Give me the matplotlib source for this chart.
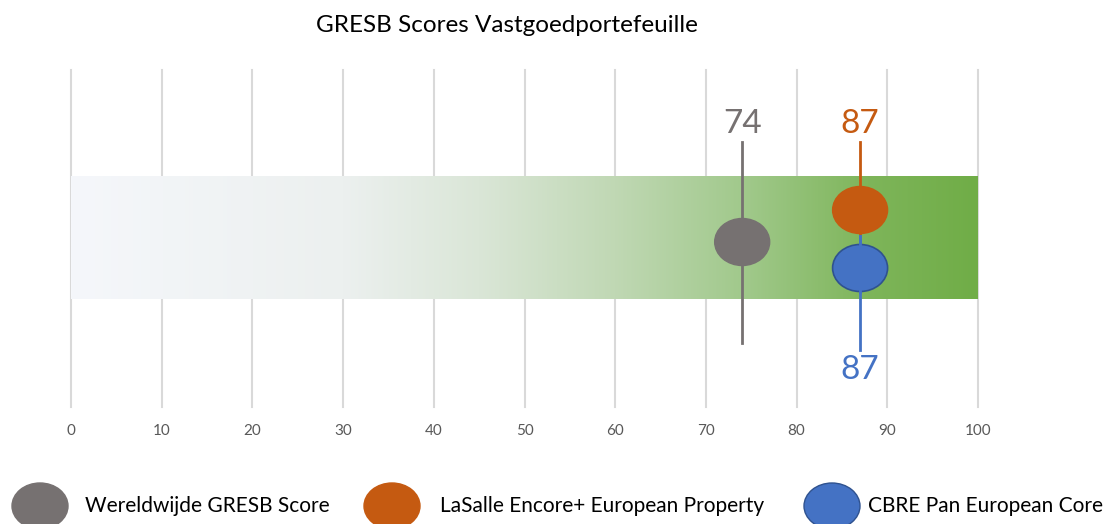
import numpy as np
import matplotlib
matplotlib.use("Agg")
import matplotlib.pyplot as plt
from matplotlib.colors import LinearSegmentedColormap
from matplotlib.patches import Ellipse

plt.rcParams["font.family"] = ["Lato", "DejaVu Sans"]

# data
title = "GRESB Scores Vastgoedportefeuille"
series = ["Wereldwijde GRESB Score", "LaSalle Encore+ European Property", "CBRE Pan European Core"]
scores = [74, 87, 87]
colors = ["#767171", "#C55A11", "#4472C4"]
edges = ["#767171", "#C55A11", "#2F528F"]
ticks = list(range(0, 101, 10))

W, H = 1107, 524
fig = plt.figure(figsize=(W / 100, H / 100), dpi=100)

# main axes: x 0..100 maps px 71..978, y 0..1 maps px 407..70
x0, x1, ytop, ybot = 71, 978, 70, 407
ax = fig.add_axes([x0 / W, 1 - ybot / H, (x1 - x0) / W, (ybot - ytop) / H])
ax.set_xlim(0, 100)
ax.set_ylim(0, 1)
ax.axis("off")


def py(p):
    # pixel row -> axes y
    return 1 - (p - ytop) / (ybot - ytop)


for t in ticks:
    ax.plot([t, t], [0, 1], color="#D9D9D9", lw=1.5, zorder=1, clip_on=False)
    ax.text(t, py(431), str(t), ha="center", va="center", fontsize=11,
            color="#595959")

# gradient band
cmap = LinearSegmentedColormap.from_list("band", [
    (0.0, "#F5F7FB"), (0.3, "#ECF0EF"), (0.45, "#DAE6D7"),
    (0.6, "#C0D8B4"), (0.75, "#9FC889"), (0.88, "#7EB55A"), (1.0, "#70AD47")])
grad = np.linspace(0, 1, 512).reshape(1, -1)
ax.imshow(grad, cmap=cmap, aspect="auto", extent=[0, 100, py(299), py(177)],
          zorder=2, interpolation="bicubic")

ex = 55 / ((x1 - x0) / 100)
ey = 47 / (ybot - ytop)

# grey: world score
ax.plot([scores[0], scores[0]], [py(343), py(142)], color="#767171", lw=2, zorder=3)
ax.add_patch(Ellipse((scores[0], py(242)), ex, ey, fc=colors[0], ec=edges[0], lw=1, zorder=4))
ax.text(scores[0], py(124), str(scores[0]), ha="center", va="center", fontsize=24, color="#767171")

# orange: LaSalle
ax.plot([scores[1], scores[1]], [py(236), py(142)], color=colors[1], lw=2, zorder=3)
ax.add_patch(Ellipse((scores[1], py(210)), ex, ey, fc=colors[1], ec=edges[1], lw=1, zorder=5))
ax.text(scores[1], py(124), str(scores[1]), ha="center", va="center", fontsize=24, color=colors[1])

# blue: CBRE
ax.plot([scores[2], scores[2]], [py(350), py(236)], color=colors[2], lw=2, zorder=3)
ax.add_patch(Ellipse((scores[2], py(268)), ex, ey, fc=colors[2], ec=edges[2], lw=1.2, zorder=4))
ax.plot([scores[2], scores[2]], [py(292), py(236)], color=colors[2], lw=2, zorder=6)
ax.text(scores[2], py(370), str(scores[2]), ha="center", va="center", fontsize=24, color=colors[2])

fig.text(507 / W, 1 - 25 / H, title, ha="center", va="center", fontsize=17.5, color="#000000")

# legend in pixel space
lax = fig.add_axes([0, 0, 1, 1])
lax.set_xlim(0, W)
lax.set_ylim(H, 0)
lax.axis("off")
leg_mx = [40, 392, 832]
leg_tx = [85, 440, 868]
for i, name in enumerate(series):
    lax.add_patch(Ellipse((leg_mx[i], 506), 56, 46, fc=colors[i], ec=edges[i], lw=1, clip_on=False))
    lax.text(leg_tx[i], 506, name, ha="left", va="center", fontsize=15, color="#000000")

fig.savefig("out.png", dpi=100)
